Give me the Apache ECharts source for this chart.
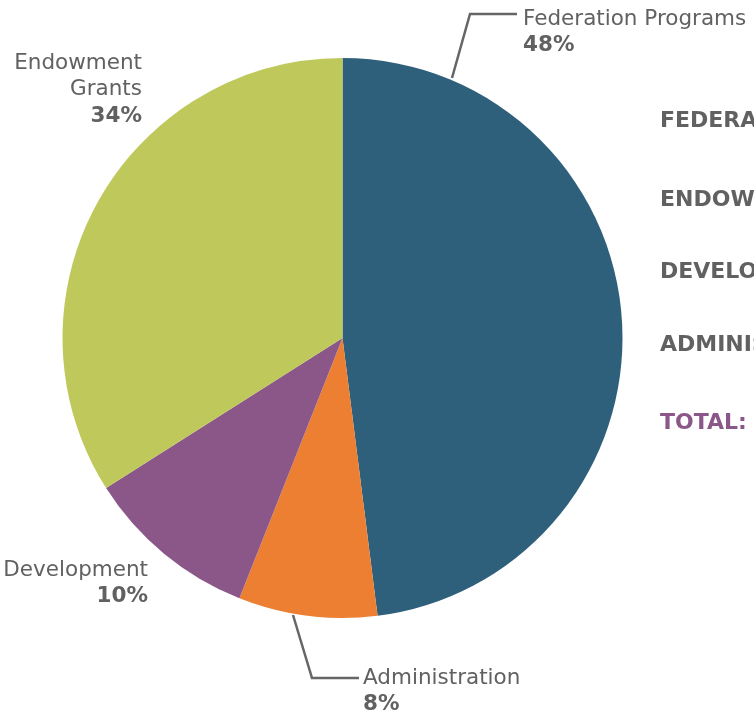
<!DOCTYPE html>
<html>
<head>
<meta charset="utf-8">
<script src="https://cdn.jsdelivr.net/npm/echarts@6/dist/echarts.min.js"></script>
<style>
html,body{margin:0;padding:0;background:#fff;}
#chart{width:754px;height:714px;}
</style>
</head>
<body>
<div id="chart"></div>
<script>
// ---- data ----
const categories = ['Federation Programs', 'Administration', 'Development', 'Endowment Grants'];
const labelNames = ['Federation Programs', 'Administration', 'Development', 'Endowment\nGrants'];
const values = [48, 8, 10, 34];
const colors = ['#2e5f7b', '#ec7f32', '#8b5789', '#bfc85b'];
const sideList = ['FEDERATION PROGRAMS', 'ENDOWMENT GRANTS', 'DEVELOPMENT', 'ADMINISTRATION'];
const totalLabel = 'TOTAL:';

// ---- layout (positions) ----
const FONT = 'DejaVu Sans';
const labelLayouts = [
  { x: 523, y: 6, align: 'left', line: [[452, 78], [470, 14], [517, 14]] },
  { x: 363, y: 665, align: 'left', line: [[293, 615], [312, 678], [359, 678]] },
  { x: 148, y: 557, align: 'right', line: null },
  { x: 142, y: 50, align: 'right', line: null }
];
const sideY = [123, 202, 274, 347];
const totalY = 425;

const chart = echarts.init(document.getElementById('chart'), null, { renderer: 'canvas' });

const data = categories.map((c, i) => ({
  name: c,
  value: values[i],
  itemStyle: { color: colors[i] },
  labelLine: { show: !!labelLayouts[i].line },
  label: { formatter: '{n|' + labelNames[i].split('\n').join('}\n{n|') + '}\n{p|' + values[i] + '%}' }
}));

const graphics = sideList.map((t, i) => ({
  type: 'text', left: 660, top: sideY[i] - 13,
  style: { text: t, fill: '#616161', font: 'bold 22px "' + FONT + '"' }
}));
graphics.push({
  type: 'text', left: 660, top: totalY - 13,
  style: { text: totalLabel, fill: '#8b5789', font: 'bold 22px "' + FONT + '"' }
});

chart.setOption({
  animation: false,
  backgroundColor: '#ffffff',
  graphic: graphics,
  series: [{
    type: 'pie',
    center: [342.5, 338],
    radius: [0, 280],
    startAngle: 90,
    clockwise: true,
    silent: true,
    data: data,
    emphasis: { disabled: true },
    label: {
      show: true,
      position: 'outside',
      overflow: 'none',
      width: 400,
      rich: {
        n: { fontFamily: FONT, fontSize: 21.5, color: '#616161', lineHeight: 26.5 },
        p: { fontFamily: FONT, fontSize: 21.5, fontWeight: 'bold', color: '#616161', lineHeight: 26.5 }
      }
    },
    labelLine: { show: true, lineStyle: { color: '#666666', width: 2.5 } },
    labelLayout: function (p) {
      const L = labelLayouts[p.dataIndex];
      const r = { x: L.x, y: L.y, align: L.align, verticalAlign: 'top' };
      if (L.line) r.labelLinePoints = L.line;
      return r;
    }
  }]
});
</script>
</body>
</html>
